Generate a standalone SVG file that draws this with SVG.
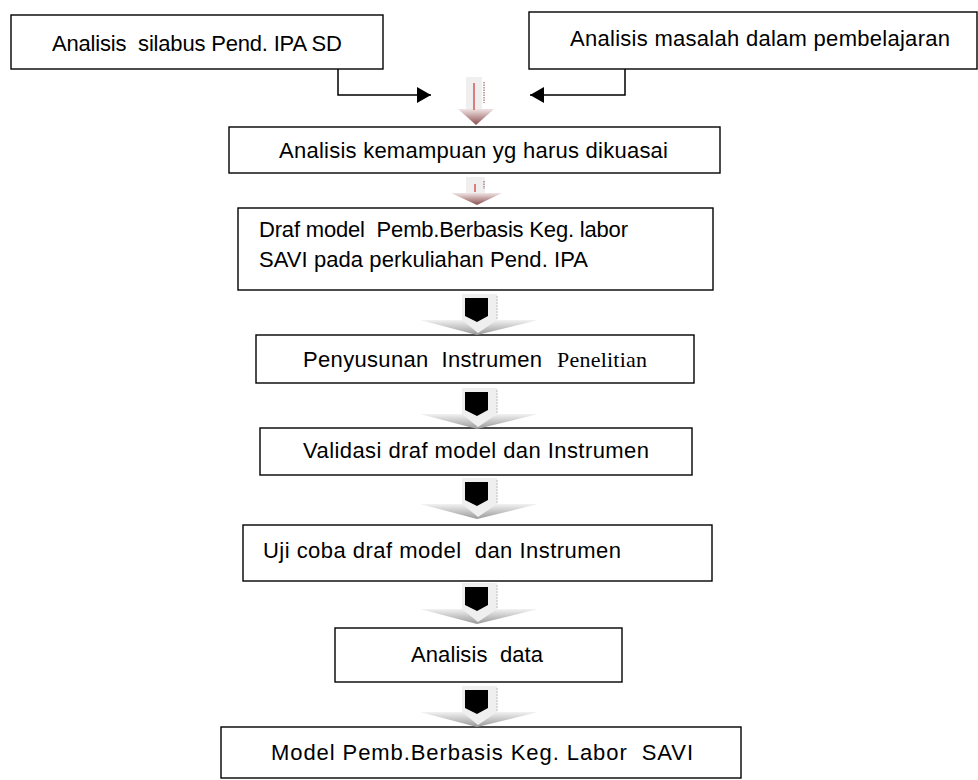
<svg xmlns="http://www.w3.org/2000/svg" width="978" height="780" viewBox="0 0 978 780">
<style>
.box{fill:#fff;stroke:#000;stroke-width:1.4}
.t{font-family:"Liberation Sans",Arial,sans-serif;font-size:22px;fill:#000;white-space:pre}
.s{font-family:"Liberation Serif","Times New Roman",serif;font-size:22px;fill:#000}
.ln{fill:none;stroke:#000;stroke-width:1.5}
.shaft{fill:#efefef}
</style>
<defs>
<marker id="ah" viewBox="0 0 14 16" refX="14" refY="8" markerWidth="14" markerHeight="16" markerUnits="userSpaceOnUse" orient="auto">
<path d="M0,0 L14,8 L0,16 Z" fill="#000"/>
</marker>
<linearGradient id="gh" x1="0" y1="0" x2="0" y2="1">
<stop offset="0" stop-color="#f2f2f2"/>
<stop offset="1" stop-color="#999"/>
</linearGradient>
<linearGradient id="rh" x1="0" y1="0" x2="0" y2="1">
<stop offset="0" stop-color="#f0e4e4"/>
<stop offset="1" stop-color="#8c4e4e"/>
</linearGradient>
<g id="blk">
<rect class="shaft" x="-15" y="0" width="35" height="27"/>
<line x1="20" y1="2" x2="20" y2="26" stroke="#bbb" stroke-width="1" stroke-dasharray="2 1"/>
<polygon points="-57,26 61,26 0,41" fill="url(#gh)"/>
<polygon points="-15,26 20,26 1,39" fill="#efefef"/>
<polygon points="-12,4 11,4 11,22 0,28 -12,22" fill="#000"/>
</g>
</defs>

<g id="n1">
<rect class="box" x="11" y="15" width="372" height="54"/>
<text class="t" x="52" y="51" textLength="290" xml:space="preserve">Analisis  silabus Pend. IPA SD</text>
</g>
<g id="n2">
<rect class="box" x="529" y="12" width="448" height="57"/>
<text class="t" x="570" y="46" textLength="380">Analisis masalah dalam pembelajaran</text>
</g>
<g id="n3">
<rect class="box" x="229" y="127" width="491" height="46"/>
<text class="t" x="279" y="158" textLength="389">Analisis kemampuan yg harus dikuasai</text>
</g>
<g id="n4">
<rect class="box" x="238" y="208" width="475" height="82"/>
<text class="t" x="259" y="237" textLength="369" xml:space="preserve">Draf model  Pemb.Berbasis Keg. labor</text>
<text class="t" x="259" y="267" textLength="329">SAVI pada perkuliahan Pend. IPA</text>
</g>
<g id="n5">
<rect class="box" x="256" y="335" width="438" height="48"/>
<text class="t" x="303" y="367" textLength="239" xml:space="preserve">Penyusunan  Instrumen</text>
<text class="s" x="557" y="367" textLength="90">Penelitian</text>
</g>
<g id="n6">
<rect class="box" x="260" y="428" width="432" height="47"/>
<text class="t" x="303" y="458" textLength="346">Validasi draf model dan Instrumen</text>
</g>
<g id="n7">
<rect class="box" x="243" y="525" width="469" height="56"/>
<text class="t" x="263" y="558" textLength="358" xml:space="preserve">Uji coba draf model  dan Instrumen</text>
</g>
<g id="n8">
<rect class="box" x="335" y="628" width="287" height="54"/>
<text class="t" x="411" y="662" textLength="132" xml:space="preserve">Analisis  data</text>
</g>
<g id="n9">
<rect class="box" x="221" y="727" width="520" height="51"/>
<text class="t" x="271" y="760" textLength="422" xml:space="preserve">Model Pemb.Berbasis Keg. Labor  SAVI</text>
</g>

<g id="connectors">
<polyline class="ln" points="338,69 338,95 431,95" marker-end="url(#ah)"/>
<polyline class="ln" points="625,69 625,95 530,95" marker-end="url(#ah)"/>

<g id="a1">
<rect class="shaft" x="466" y="77" width="16" height="32"/>
<polygon points="458,109 494,109 476,125" fill="url(#rh)"/>
<line x1="474" y1="83" x2="474" y2="110" stroke="#d03030" stroke-width="1.2"/>
<line x1="484" y1="82" x2="484" y2="103" stroke="#a06a6a" stroke-width="1.2" stroke-dasharray="1.5 1"/>
</g>
<g id="a2">
<rect class="shaft" x="466" y="177" width="19" height="16"/>
<polygon points="451,193 502,193 477,205" fill="url(#rh)"/>
<line x1="475" y1="184" x2="475" y2="192" stroke="#d03030" stroke-width="1.2"/>
<line x1="484" y1="181" x2="484" y2="189" stroke="#a06a6a" stroke-width="1.2" stroke-dasharray="1.5 1"/>
</g>
<use href="#blk" x="477" y="294"/>
<use href="#blk" x="477" y="388"/>
<use href="#blk" x="477" y="478"/>
<use href="#blk" x="477" y="583"/>
<use href="#blk" x="477" y="686"/>
</g>
</svg>
